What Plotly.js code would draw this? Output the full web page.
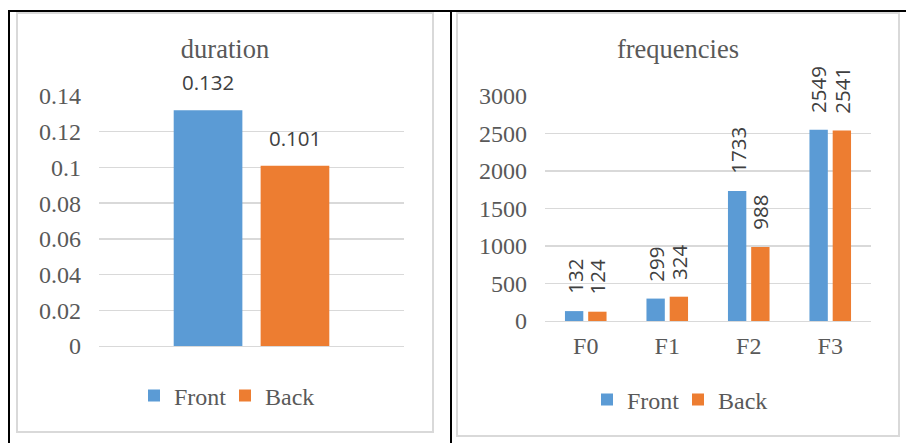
<!DOCTYPE html>
<html>
<head>
<meta charset="utf-8">
<script src="https://cdn.plot.ly/plotly-3.0.1.min.js"></script>
<style>
  html, body { margin: 0; padding: 0; background: #ffffff; }
  #page { position: relative; width: 906px; height: 443px; overflow: hidden; background: #fff; }
  .blk { position: absolute; background: #000; }
  .panel { position: absolute; box-sizing: border-box; border: 2px solid #d9d9d9; background: #fff; }
</style>
</head>
<body>
<div id="page">
  <div class="blk" style="left:8px; top:10px; width:898px; height:2px;"></div>
  <div class="blk" style="left:8px; top:10px; width:2px; height:433px;"></div>
  <div class="blk" style="left:450px; top:10px; width:2px; height:433px;"></div>
  <div class="panel" id="p1" style="left:16px; top:12px; width:418px; height:421px;"><div id="c1"></div></div>
  <div class="panel" id="p2" style="left:456px; top:12px; width:444px; height:425px;"><div id="c2"></div></div>
</div>
<script>
// ---- data ----
const seriesNames = ["Front", "Back"];
const seriesColors = ["#5b9bd5", "#ed7d31"];

const durationCategory = ["duration"];
const durationFront = [0.132];
const durationBack = [0.101];
const durationTicks = [0, 0.02, 0.04, 0.06, 0.08, 0.1, 0.12, 0.14];
const durationTickLabels = ["0", "0.02", "0.04", "0.06", "0.08", "0.1", "0.12", "0.14"];

const freqCategories = ["F0", "F1", "F2", "F3"];
const freqFront = [132, 299, 1733, 2549];
const freqBack = [124, 324, 988, 2541];
const freqTicks = [0, 500, 1000, 1500, 2000, 2500, 3000];
const freqTickLabels = ["0", "500", "1000", "1500", "2000", "2500", "3000"];

// ---- style ----
const SERIF = "'Liberation Serif', 'Times New Roman', serif";
const SANS = "'Open Sans', 'Noto Sans', sans-serif";
const AXIS_COLOR = "#595959";
const LABEL_COLOR = "#404040";
const GRID = "#d9d9d9";

function baseLayout(w, h, titleText, margin) {
  return {
    width: w, height: h,
    margin: margin,
    paper_bgcolor: "#ffffff", plot_bgcolor: "#ffffff",
    barmode: "group", bargap: 0.43, bargroupgap: 0.21,
    title: {
      text: titleText, x: 0.5, xref: "container", xanchor: "center",
      y: 1 - 35 / h, yref: "container", yanchor: "middle",
      font: { family: SERIF, size: 26.5, color: AXIS_COLOR }
    },
    showlegend: true,
    legend: {
      orientation: "h", xref: "container", yref: "container",
      x: 0.5, xanchor: "center", y: 0.084, yanchor: "middle",
      font: { family: SERIF, size: 24, color: AXIS_COLOR },
      bgcolor: "rgba(0,0,0,0)", itemclick: false, itemdoubleclick: false,
      tracegroupgap: 0, entrywidth: 46, itemwidth: 30
    },
    font: { family: SERIF, color: AXIS_COLOR }
  };
}

function yAxis(tv, tt, range) {
  return {
    range: range, tickvals: tv, ticktext: tt,
    showgrid: true, gridcolor: GRID, gridwidth: 1.3,
    zeroline: false, showline: false, ticks: "",
    ticklabelstandoff: 17,
    tickfont: { family: SERIF, size: 24, color: AXIS_COLOR },
    fixedrange: true
  };
}

// ---- chart 1: duration ----
(function () {
  const W = 414, H = 417;
  const traces = [
    { type: "bar", name: seriesNames[0], x: durationCategory, y: durationFront, marker: { color: seriesColors[0] }, hoverinfo: "none" },
    { type: "bar", name: seriesNames[1], x: durationCategory, y: durationBack, marker: { color: seriesColors[1] }, hoverinfo: "none" }
  ];
  const layout = baseLayout(W, H, "duration", { l: 81, r: 28, t: 82, b: 85, pad: 0 });
  layout.xaxis = { type: "category", showticklabels: false, showgrid: false, zeroline: false, showline: true, linecolor: GRID, linewidth: 1.3, ticks: "", fixedrange: true };
  layout.yaxis = yAxis(durationTicks, durationTickLabels, [0, 0.14]);
  const vals = [durationFront, durationBack];
  const shifts = [-43.5, 43.5];
  layout.annotations = [];
  vals.forEach((arr, si) => {
    arr.forEach((v, i) => {
      layout.annotations.push({
        x: durationCategory[i], y: v, xref: "x", yref: "y",
        text: String(v), showarrow: false, xanchor: "center", yanchor: "bottom",
        xshift: shifts[si], yshift: 12,
        font: { family: SANS, size: 20.5, color: LABEL_COLOR }
      });
    });
  });
  Plotly.newPlot("c1", traces, layout, { displayModeBar: false, staticPlot: true });
})();

// ---- chart 2: frequencies ----
(function () {
  const W = 440, H = 421;
  const traces = [
    { type: "bar", name: seriesNames[0], x: freqCategories, y: freqFront, marker: { color: seriesColors[0] }, hoverinfo: "none" },
    { type: "bar", name: seriesNames[1], x: freqCategories, y: freqBack, marker: { color: seriesColors[1] }, hoverinfo: "none" }
  ];
  const layout = baseLayout(W, H, "frequencies", { l: 87, r: 27, t: 82, b: 114, pad: 0 });
  layout.legend.y = 1 - 386 / H;
  layout.xaxis = {
    type: "category", showgrid: false, zeroline: false, showline: true, linecolor: GRID, linewidth: 1.3,
    ticks: "", ticklabelstandoff: 3,
    tickfont: { family: SERIF, size: 24, color: AXIS_COLOR }, fixedrange: true
  };
  layout.yaxis = yAxis(freqTicks, freqTickLabels, [0, 3000]);
  const vals = [freqFront, freqBack];
  const shifts = [-11.6, 11.6];
  layout.annotations = [];
  vals.forEach((arr, si) => {
    arr.forEach((v, i) => {
      layout.annotations.push({
        x: freqCategories[i], y: v, xref: "x", yref: "y",
        text: String(v), showarrow: false, textangle: -90,
        xanchor: "center", yanchor: "bottom",
        xshift: shifts[si], yshift: 15,
        font: { family: SANS, size: 20.5, color: LABEL_COLOR }
      });
    });
  });
  Plotly.newPlot("c2", traces, layout, { displayModeBar: false, staticPlot: true });
})();
</script>
</body>
</html>
